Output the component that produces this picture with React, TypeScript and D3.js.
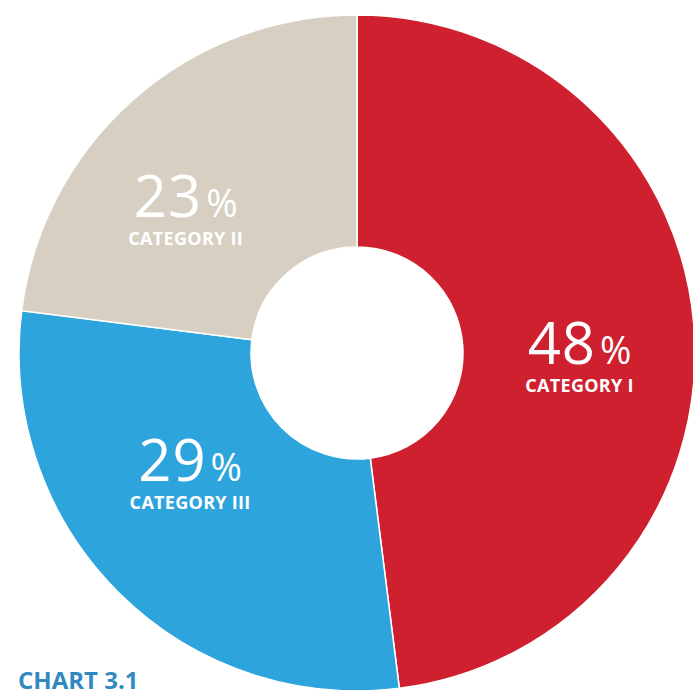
import React from "react";
import * as d3 from "d3";

const categories = ["CATEGORY I", "CATEGORY III", "CATEGORY II"];
const values = [48, 29, 23];
const colors = ["#cf202f", "#2ea4dc", "#d7d0c2"];
const title = "CHART 3.1";

const W = 693;
const H = 690;
const cx = 357;
const cy = 353;
const outerR = 338;
const innerR = 106;
// label placement offsets (layout only)
const labelPos = [
  { r: 223, dy: 39 },
  { r: 236, dy: -25 },
  { r: 259, dy: 72 },
];

export default function App() {
  const pie = d3.pie<number>().sort(null).value((d) => d);
  const arcs = pie(values);
  const arcGen = d3.arc<d3.PieArcDatum<number>>().innerRadius(innerR).outerRadius(outerR);

  return (
    <svg
      width={W}
      height={H}
      style={{ position: "absolute", left: 0, top: 0, background: "#fff" }}
    >
      <g transform={`translate(${cx},${cy})`}>
        {arcs.map((a, i) => (
          <path key={i} d={arcGen(a) || ""} fill={colors[i]} stroke="#fff" strokeWidth={1.5} />
        ))}
        {arcs.map((a, i) => {
          const mid = (a.startAngle + a.endAngle) / 2;
          const lp = labelPos[i];
          const x = Math.sin(mid) * lp.r;
          const y = -Math.cos(mid) * lp.r + lp.dy;
          return (
            <g key={"l" + i} transform={`translate(${x},${y})`} fill="#fff">
              <text
                textAnchor="middle"
                y={-14}
                style={{ fontFamily: "'Open Sans', sans-serif" }}
              >
                <tspan fontSize={58} fontWeight={400} letterSpacing={1}>
                  {values[i]}
                </tspan>
                <tspan fontSize={38} fontWeight={400} dx={4}>
                  %
                </tspan>
              </text>
              <text
                textAnchor="middle"
                y={14}
                fontSize={18}
                fontWeight={700}
                letterSpacing={0.3}
                style={{ fontFamily: "'Open Sans', sans-serif" }}
              >
                {categories[i]}
              </text>
            </g>
          );
        })}
      </g>
      <text
        x={18}
        y={689}
        fill="#3189bf"
        fontSize={24}
        fontWeight={700}
        style={{ fontFamily: "'Open Sans', sans-serif" }}
      >
        {title}
      </text>
    </svg>
  );
}
